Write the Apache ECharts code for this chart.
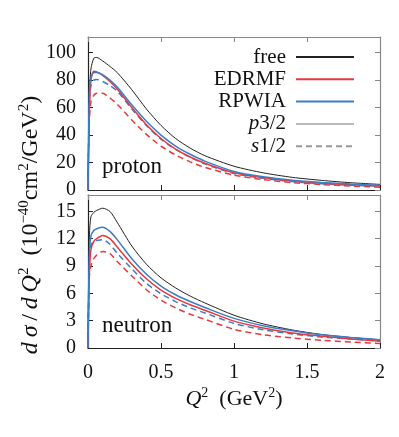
<!DOCTYPE html>
<html>
<head>
<meta charset="utf-8">
<script src="https://cdn.jsdelivr.net/npm/echarts@6/dist/echarts.min.js"></script>
<style>
  html, body { margin: 0; padding: 0; background: #fff; }
  #chart { width: 399px; height: 437px; }
</style>
</head>
<body>
<div id="chart"></div>
<script>
// Q^2 grid (GeV^2)
const qsq = [0, 0.005, 0.01, 0.02, 0.04, 0.06, 0.1, 0.15, 0.2, 0.3, 0.4, 0.5, 0.6, 0.7, 0.8, 1.0, 1.2, 1.4, 1.6, 1.8, 2.0];

// proton panel
const pFree      = [0, 40, 70, 88, 96, 96.5, 94, 90, 85.5, 73, 59, 47, 37.5, 30.5, 25, 17.3, 12.5, 9.2, 7.0, 5.3, 4.1];
const pEdrmfP32  = [0, 35, 60, 80, 86.5, 86, 83.5, 79, 73.5, 60, 47.5, 37.5, 29.8, 24, 19.5, 12.5, 8.9, 6.5, 5.0, 3.8, 3.0];
const pRpwiaP32  = [0, 45, 72, 82, 85.5, 85.5, 84, 80, 75, 62, 50, 40, 32, 26, 21, 13.5, 9.6, 7.1, 5.5, 4.3, 3.5];
const pRpwiaS12  = [0, 40, 65, 76, 80, 80.5, 79, 76, 72, 59, 47, 37, 29.5, 23.8, 19, 12, 8.5, 6.1, 4.6, 3.5, 2.8];
const pEdrmfS12  = [10, 35, 52, 64, 69, 70.5, 70.5, 67, 62.5, 51, 40.5, 32, 25.5, 20.5, 16.5, 10.8, 7.6, 5.4, 4.0, 2.9, 2.0];

// neutron panel
const nFree      = [0, 9, 12.5, 14.4, 14.9, 15.1, 15.35, 15.0, 13.8, 11.2, 9.2, 7.7, 6.6, 5.7, 4.95, 3.6, 2.65, 1.98, 1.48, 1.15, 0.9];
const nRpwiaP32  = [0, 7, 10.5, 12.3, 12.9, 13.1, 13.25, 12.8, 11.9, 9.8, 8.1, 6.8, 5.85, 5.1, 4.45, 3.25, 2.45, 1.9, 1.45, 1.15, 0.9];
const nEdrmfP32  = [0, 5, 8.5, 10.8, 11.7, 12.0, 12.35, 12.0, 11.1, 9.2, 7.6, 6.35, 5.45, 4.75, 4.15, 2.95, 2.2, 1.65, 1.3, 1.0, 0.75];
const nRpwiaS12  = [0, 6, 9.5, 11.3, 11.7, 11.8, 11.9, 11.4, 10.4, 8.7, 7.1, 5.95, 5.1, 4.4, 3.85, 2.7, 2.0, 1.55, 1.2, 1.0, 0.8];
const nEdrmfS12  = [1, 5, 8.0, 9.0, 9.8, 10.2, 10.6, 10.4, 9.5, 7.9, 6.4, 5.25, 4.4, 3.7, 3.15, 2.05, 1.45, 1.1, 0.85, 0.65, 0.5];

const xTicks = [0, 0.5, 1, 1.5, 2];
const legendNames = ['free', 'EDRMF', 'RPWIA', 'p3/2', 's1/2'];

const FONT = '"Liberation Serif", "DejaVu Serif", serif';
const RED = '#e8383d', BLUE = '#3b7ec6', BLACK = '#222';
const DASH = [6, 4];

function pairs(ys){ return qsq.map((x,i)=>[x, ys[i]]); }

function line(name, ys, color, width, dashed, gi){
  return {
    name: name, type: 'line', data: pairs(ys),
    xAxisIndex: gi*2, yAxisIndex: gi*2,
    showSymbol: false, symbol: 'none', smooth: 0.25,
    lineStyle: { color: color, width: width, type: dashed ? DASH : 'solid' },
    itemStyle: { color: color },
    silent: true, animation: false, z: dashed ? 2 : 3
  };
}
function dummy(name, color, width, dashed){
  return { name: name, type: 'line', data: [], symbol: 'none', xAxisIndex: 0, yAxisIndex: 0,
    lineStyle: { color: color, width: width, type: dashed ? DASH : 'solid' }, itemStyle: { color: color } };
}

function xAx(gi, top, labels){
  return {
    type: 'value', gridIndex: gi, min: 0, max: 2, interval: 0.5,
    position: top ? 'top' : 'bottom',
    axisLine: { show: true, onZero: false, lineStyle: { color: top ? '#888' : BLACK, width: 1.2 } },
    axisTick: { show: true, inside: true, length: 5, lineStyle: { color: top ? '#888' : BLACK } },
    axisLabel: { show: labels, margin: 15, color: '#111', fontFamily: FONT, fontSize: 20,
      formatter: v => xTicks.includes(v) ? String(v) : '' },
    splitLine: { show: false }
  };
}
function yAx(gi, right, max, interval){
  return {
    type: 'value', gridIndex: gi, min: 0, max: max, interval: interval,
    position: right ? 'right' : 'left',
    axisLine: { show: true, onZero: false, lineStyle: { color: right ? '#888' : BLACK, width: 1.2 } },
    axisTick: { show: true, inside: true, length: 5, lineStyle: { color: right ? '#888' : BLACK } },
    axisLabel: { show: !right, margin: 12, color: '#111', fontFamily: FONT, fontSize: 20, showMaxLabel: false,
      formatter: v => (v % interval === 0) ? String(v) : '' },
    splitLine: { show: false }
  };
}

const xRich = {
  i: { fontStyle: 'italic', fontFamily: FONT, fontSize: 22, lineHeight: 26 },
  s: { fontFamily: FONT, fontSize: 14, lineHeight: 26, verticalAlign: 'top' }
};
const yRich = {
  i: { fontStyle: 'italic', fontFamily: FONT, fontSize: 24, lineHeight: 28 },
  s: { fontFamily: FONT, fontSize: 15, lineHeight: 28, verticalAlign: 'top' }
};

const chart = echarts.init(document.getElementById('chart'), null, { renderer: 'canvas' });
chart.setOption({
  animation: false,
  backgroundColor: '#fff',
  grid: [
    { left: 88, right: 19, top: 37, height: 153 },
    { left: 88, right: 19, top: 195, height: 153 }
  ],
  xAxis: [
    xAx(0, false, false), xAx(0, true, false),
    Object.assign(xAx(1, false, true), {
      name: '{i|Q}{s|2}  (GeV{s|2})', nameLocation: 'middle', nameGap: 38,
      nameTextStyle: { color: '#111', fontFamily: FONT, fontSize: 22, lineHeight: 26, rich: xRich }
    }),
    xAx(1, true, false)
  ],
  yAxis: [
    yAx(0, false, 111.4, 20), yAx(0, true, 111.4, 20),
    yAx(1, false, 16.8, 3), yAx(1, true, 16.8, 3)
  ],
  legend: {
    data: legendNames, orient: 'vertical', align: 'right',
    right: 44, top: 46, padding: 0, itemWidth: 58, itemHeight: 14, itemGap: 0.3,
    selectedMode: false,
    itemStyle: { opacity: 0 },
    textStyle: { color: '#111', fontFamily: FONT, fontSize: 21, lineHeight: 22, padding: [0, 5, 0, 0],
      rich: { i: { fontStyle: 'italic', fontFamily: FONT, fontSize: 21 } } },
    formatter: n => n === 'p3/2' ? '{i|p}3/2' : (n === 's1/2' ? '{i|s}1/2' : n)
  },
  graphic: [
    { type: 'text', x: 102, y: 167, style: { text: 'proton', fontFamily: FONT, fontSize: 23, fill: '#111', verticalAlign: 'middle' } },
    { type: 'text', x: 102, y: 326, style: { text: 'neutron', fontFamily: FONT, fontSize: 23, fill: '#111', verticalAlign: 'middle' } },
    { type: 'text', x: 31, y: 225, rotation: Math.PI / 2,
      style: { text: '{i|d\u2009σ\u2009}/{i|\u2009d\u2009Q}{s|2}  (10{s|−40}cm{s|2}/GeV{s|2})', fontFamily: FONT, fontSize: 24, lineHeight: 28,
        fill: '#111', align: 'center', verticalAlign: 'middle', rich: yRich } }
  ],
  series: [
    dummy('free', BLACK, 1, false),
    dummy('EDRMF', RED, 1.5, false),
    dummy('RPWIA', BLUE, 1.5, false),
    dummy('p3/2', '#bbb', 2.5, false),
    dummy('s1/2', '#999', 1.5, true),

    line('p-free', pFree, BLACK, 1, false, 0),
    line('p-edrmf-s', pEdrmfS12, RED, 1.5, true, 0),
    line('p-rpwia-s', pRpwiaS12, BLUE, 1.5, true, 0),
    line('p-edrmf-p', pEdrmfP32, RED, 1.5, false, 0),
    line('p-rpwia-p', pRpwiaP32, BLUE, 1.5, false, 0),

    line('n-free', nFree, BLACK, 1, false, 1),
    line('n-edrmf-s', nEdrmfS12, RED, 1.5, true, 1),
    line('n-rpwia-s', nRpwiaS12, BLUE, 1.5, true, 1),
    line('n-edrmf-p', nEdrmfP32, RED, 1.5, false, 1),
    line('n-rpwia-p', nRpwiaP32, BLUE, 1.5, false, 1)
  ]
});
</script>
</body>
</html>
